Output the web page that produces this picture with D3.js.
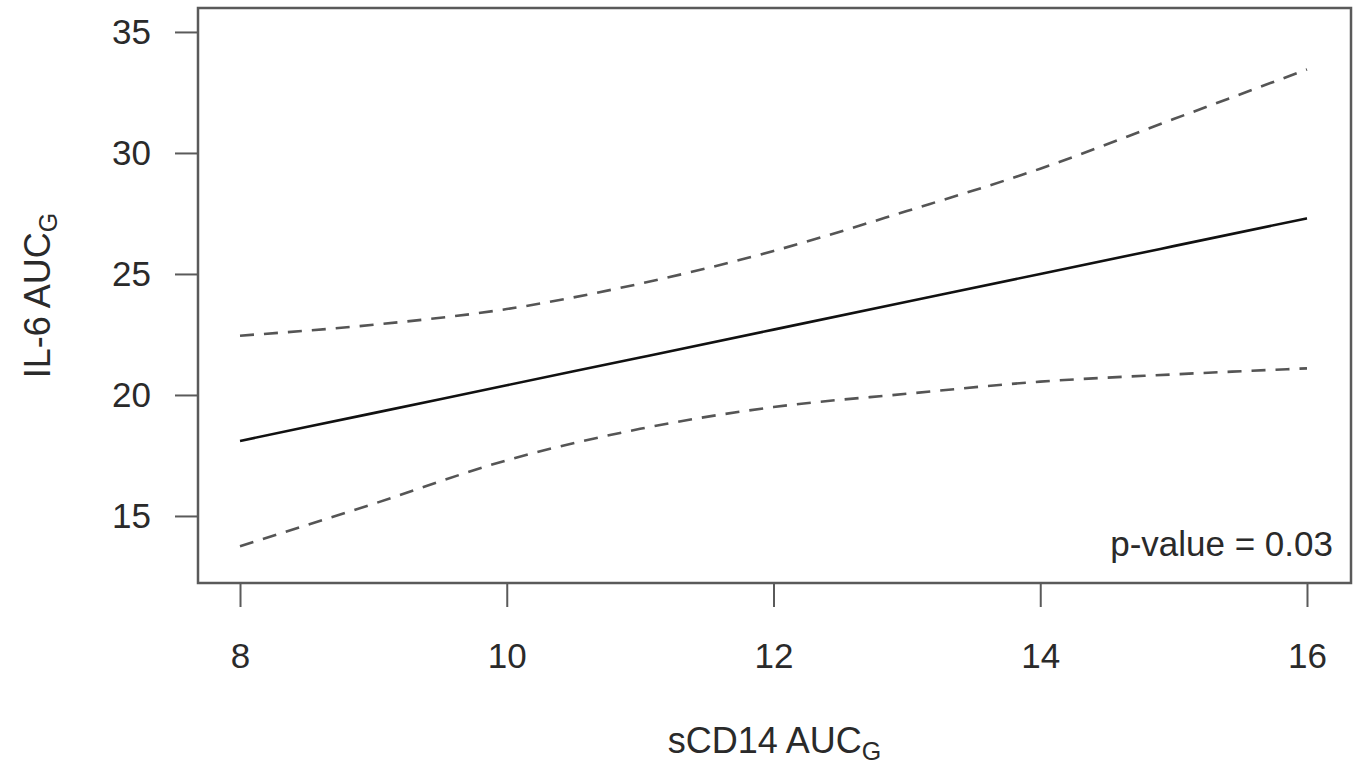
<!DOCTYPE html>
<html>
<head>
<meta charset="utf-8">
<script src="https://cdn.jsdelivr.net/npm/d3@7"></script>
<style>
  body { margin: 0; background: #fff; }
  text { font-family: "Liberation Sans", Arial, sans-serif; fill: #2a2a2a; }
</style>
</head>
<body>
<div id="chart"></div>
<script>
// sCD14 values where the fit was evaluated
const sCD14 = [8, 9, 10, 11, 12, 13, 14, 15, 16];
// fitted IL-6 and its confidence band
const fitValues = [18.1, 19.25, 20.4, 21.55, 22.7, 23.85, 25.0, 26.15, 27.3];
const upperValues = [22.45, 22.9, 23.55, 24.6, 25.95, 27.6, 29.35, 31.4, 33.45];
const lowerValues = [13.75, 15.5, 17.3, 18.6, 19.5, 20.05, 20.55, 20.85, 21.1];
const xTicks = [8, 10, 12, 14, 16];
const yTicks = [15, 20, 25, 30, 35];
const pLabel = "p-value = 0.03";

const width = 1361, height = 765;

const svg = d3.select("#chart").append("svg")
    .attr("width", width)
    .attr("height", height);

// plot region (R style, axis range a bit past the data)
const x = d3.scaleLinear().domain([7.685, 16.33]).range([198, 1351]);
const y = d3.scaleLinear().domain([12.23, 35.99]).range([583, 8]);

const axisColor = "#5a5a5a";
const fontSize = 35;

// box
svg.append("rect")
    .attr("x", x.range()[0])
    .attr("y", y.range()[1])
    .attr("width", x.range()[1] - x.range()[0])
    .attr("height", y.range()[0] - y.range()[1])
    .attr("fill", "none")
    .attr("stroke", axisColor)
    .attr("stroke-width", 2.5);

// x axis
const xAxis = svg.append("g")
    .attr("transform", `translate(0,${y.range()[0]})`)
    .call(d3.axisBottom(x).tickValues(xTicks).tickSize(24).tickPadding(36).tickFormat(d3.format("d")));
xAxis.select(".domain").remove();
xAxis.selectAll(".tick line").attr("stroke", axisColor).attr("stroke-width", 2);
xAxis.selectAll(".tick text")
    .attr("font-size", fontSize)
    .attr("font-family", "Liberation Sans, Arial, sans-serif")
    .attr("fill", "#2a2a2a");

// y axis
const yAxis = svg.append("g")
    .attr("transform", `translate(${x.range()[0]},0)`)
    .call(d3.axisLeft(y).tickValues(yTicks).tickSize(23).tickPadding(24).tickFormat(d3.format("d")));
yAxis.select(".domain").remove();
yAxis.selectAll(".tick line").attr("stroke", axisColor).attr("stroke-width", 2);
yAxis.selectAll(".tick text")
    .attr("font-size", fontSize)
    .attr("font-family", "Liberation Sans, Arial, sans-serif")
    .attr("fill", "#2a2a2a");

// lines
const line = d3.line()
    .x((d, i) => x(sCD14[i]))
    .y(d => y(d))
    .curve(d3.curveMonotoneX);

svg.append("path")
    .datum(upperValues)
    .attr("fill", "none")
    .attr("stroke", "#555")
    .attr("stroke-width", 2.6)
    .attr("stroke-dasharray", "14,10")
    .attr("d", line);

svg.append("path")
    .datum(lowerValues)
    .attr("fill", "none")
    .attr("stroke", "#555")
    .attr("stroke-width", 2.6)
    .attr("stroke-dasharray", "14,10")
    .attr("d", line);

svg.append("path")
    .datum(fitValues)
    .attr("fill", "none")
    .attr("stroke", "#111")
    .attr("stroke-width", 2.6)
    .attr("d", line);

// p-value
svg.append("text")
    .attr("x", 1333)
    .attr("y", 556)
    .attr("text-anchor", "end")
    .attr("font-size", fontSize)
    .text(pLabel);

// axis titles with subscript G
const xTitle = svg.append("text")
    .attr("x", (x.range()[0] + x.range()[1]) / 2)
    .attr("y", 753)
    .attr("text-anchor", "middle")
    .attr("font-size", 36);
xTitle.append("tspan").text("sCD14 AUC");
xTitle.append("tspan").attr("font-size", 25).attr("dy", 7).text("G");

const yTitle = svg.append("text")
    .attr("transform", `translate(50,${(y.range()[0] + y.range()[1]) / 2}) rotate(-90)`)
    .attr("text-anchor", "middle")
    .attr("font-size", 36);
yTitle.append("tspan").text("IL-6 AUC");
yTitle.append("tspan").attr("font-size", 25).attr("dy", 7).text("G");
</script>
</body>
</html>
